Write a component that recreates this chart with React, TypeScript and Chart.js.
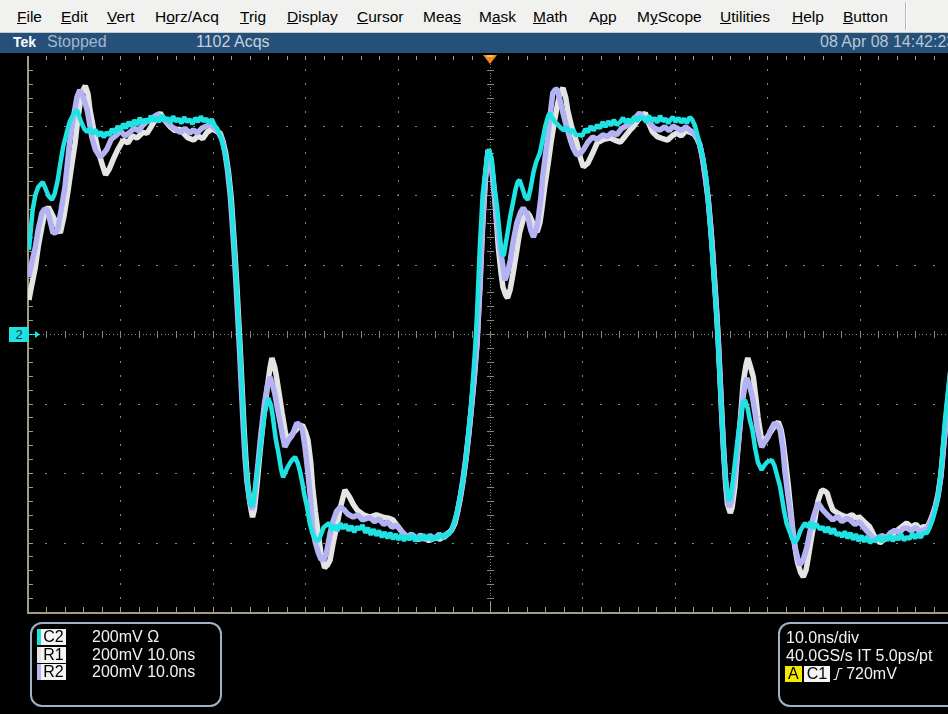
import React, { useEffect, useRef } from 'react';
import { Chart, registerables } from 'chart.js';

Chart.register(...registerables);

// ---- Scope settings ----
const timeRange = [-50, 50]; // ns (10.0 ns/div, 10 divisions)
const voltRange = [-800, 800]; // mV (200 mV/div, 8 divisions)
const timeDivs = [-40, -30, -20, -10, 10, 20, 30, 40];
const voltDivs = [-600, -400, -200, 200, 400, 600];

const menuItems: [string, number, number][] = [
  // label, left px, underlined char index
  ['File', 17, 0],
  ['Edit', 61, 0],
  ['Vert', 107, 0],
  ['Horz/Acq', 155, 1],
  ['Trig', 240, 0],
  ['Display', 287, 0],
  ['Cursor', 357, 0],
  ['Meas', 423, 3],
  ['Mask', 479, 1],
  ['Math', 533, 0],
  ['App', 589, 1],
  ['MyScope', 637, 1],
  ['Utilities', 720, 0],
  ['Help', 792, 0],
  ['Button', 843, 0],
];

const channelRows: [string, string, string][] = [
  ['C2', '200mV Ω', '#1fe3e3'],
  ['R1', '200mV 10.0ns', '#e6e6e6'],
  ['R2', '200mV 10.0ns', '#b4b4f2'],
];

// ---- Waveforms: [time ns, mV] ----
const c2Trace: [number, number][] = [
  [-49.9, 242], [-49.5, 357], [-49.2, 400], [-48.9, 423], [-48.4, 437], [-48.1, 418], [-47.8, 398], [-47.4, 386], [-47.1, 405],
  [-46.8, 440], [-46.5, 490], [-46.2, 538], [-45.8, 580], [-45.5, 610], [-45.1, 632], [-44.7, 645], [-44.5, 628], [-44.2, 607],
  [-43.9, 590], [-43.6, 581], [-43.3, 592], [-43.0, 575], [-42.7, 588], [-42.4, 570], [-42.1, 582], [-41.8, 566], [-41.5, 580],
  [-41.2, 572], [-40.9, 590], [-40.6, 578], [-40.3, 598], [-40.0, 585], [-39.7, 605], [-39.4, 592], [-39.1, 610], [-38.8, 598],
  [-38.5, 615], [-38.2, 602], [-37.9, 622], [-37.6, 606], [-37.3, 618], [-37.0, 608], [-36.7, 628], [-36.4, 612], [-36.1, 624],
  [-35.8, 610], [-35.5, 630], [-35.2, 614], [-34.9, 622], [-34.6, 608], [-34.3, 626], [-34.0, 612], [-33.7, 620], [-33.4, 606],
  [-33.1, 624], [-32.8, 610], [-32.5, 618], [-32.2, 604], [-31.9, 622], [-31.6, 610], [-31.3, 626], [-31.0, 612], [-30.7, 620],
  [-30.4, 606], [-30.1, 618], [-29.8, 600], [-29.5, 590], [-29.2, 570], [-28.9, 545], [-28.6, 510], [-28.3, 460], [-28.0, 380],
  [-27.8, 300], [-27.6, 220], [-27.4, 130], [-27.2, 30], [-27.0, -70], [-26.8, -180], [-26.6, -290], [-26.4, -380], [-26.2, -440],
  [-26.0, -480], [-25.8, -498], [-25.6, -485], [-25.4, -440], [-25.1, -380], [-24.7, -296], [-24.4, -230], [-24.0, -184],
  [-23.7, -205], [-23.5, -239], [-23.2, -300], [-22.9, -342], [-22.6, -390], [-22.4, -412], [-22.1, -395], [-21.9, -383],
  [-21.5, -365], [-21.1, -354], [-20.8, -372], [-20.6, -391], [-20.3, -430], [-20.1, -462], [-19.8, -498], [-19.5, -545],
  [-19.2, -575], [-18.9, -590], [-18.6, -596], [-18.3, -578], [-18.0, -556], [-17.7, -550], [-17.4, -544], [-17.1, -565],
  [-16.8, -550], [-16.5, -566], [-16.2, -545], [-15.9, -560], [-15.6, -548], [-15.3, -566], [-15.0, -552], [-14.7, -570],
  [-14.4, -555], [-14.1, -562], [-13.8, -550], [-13.5, -572], [-13.2, -558], [-12.9, -578], [-12.6, -562], [-12.3, -580],
  [-12.0, -566], [-11.7, -585], [-11.4, -570], [-11.1, -588], [-10.8, -572], [-10.5, -590], [-10.2, -576], [-9.9, -592],
  [-9.6, -578], [-9.3, -595], [-9.0, -580], [-8.7, -592], [-8.4, -576], [-8.1, -596], [-7.8, -582], [-7.5, -594], [-7.2, -578],
  [-6.9, -590], [-6.6, -580], [-6.3, -595], [-6.0, -582], [-5.7, -590], [-5.4, -576], [-5.1, -588], [-4.8, -574], [-4.5, -578],
  [-4.2, -565], [-3.9, -545], [-3.6, -515], [-3.3, -475], [-2.9, -420], [-2.6, -360], [-2.4, -296], [-2.1, -225], [-1.9, -153],
  [-1.6, -40], [-1.4, 60], [-1.1, 250], [-0.8, 400], [-0.5, 470], [-0.3, 515], [-0.1, 532], [0.2, 501], [0.5, 420], [0.8, 357],
  [1.0, 300], [1.3, 225], [1.5, 228], [1.9, 291], [2.2, 340], [2.5, 380], [2.8, 420], [3.0, 438], [3.2, 443], [3.5, 420],
  [3.8, 395], [4.1, 386], [4.4, 420], [4.7, 465], [5.0, 495], [5.4, 521], [5.7, 560], [6.0, 600], [6.3, 628], [6.5, 636],
  [6.8, 620], [7.1, 608], [7.4, 601], [7.7, 592], [8.0, 586], [8.3, 596], [8.7, 580], [9.0, 588], [9.3, 572], [9.7, 573],
  [10.0, 570], [10.3, 590], [10.6, 580], [10.9, 598], [11.2, 586], [11.6, 601], [11.9, 592], [12.2, 610], [12.5, 596],
  [12.8, 612], [13.1, 600], [13.4, 616], [13.7, 602], [14.1, 610], [14.4, 622], [14.7, 608], [15.0, 618], [15.3, 606],
  [15.6, 626], [15.9, 612], [16.2, 624], [16.6, 622], [16.9, 610], [17.2, 628], [17.5, 612], [17.8, 622], [18.1, 608],
  [18.4, 628], [18.7, 612], [19.0, 620], [19.3, 606], [19.5, 616], [19.8, 624], [20.1, 610], [20.4, 622], [20.7, 608],
  [21.0, 620], [21.3, 606], [21.6, 624], [21.9, 616], [22.2, 598], [22.5, 567], [22.8, 535], [23.1, 501], [23.4, 450],
  [23.6, 386], [23.8, 320], [24.0, 250], [24.2, 170], [24.4, 98], [24.6, 20], [24.8, -90], [25.1, -248], [25.3, -350],
  [25.5, -420], [25.8, -478], [26.0, -475], [26.3, -420], [26.6, -350], [26.9, -280], [27.2, -225], [27.4, -195],
  [27.6, -190], [27.9, -215], [28.1, -245], [28.4, -276], [28.7, -330], [29.0, -370], [29.4, -391], [29.7, -378],
  [30.0, -368], [30.5, -363], [30.8, -380], [31.1, -410], [31.4, -440], [31.8, -505], [32.1, -545], [32.5, -573],
  [32.7, -590], [33.0, -601], [33.3, -588], [33.6, -565], [34.1, -544], [34.4, -556], [34.7, -540], [35.0, -560],
  [35.3, -546], [35.7, -562], [36.0, -555], [36.3, -570], [36.6, -556], [36.9, -575], [37.2, -560], [37.5, -578],
  [37.9, -573], [38.1, -584], [38.4, -568], [38.7, -588], [39.0, -572], [39.3, -592], [39.6, -576], [39.9, -596],
  [40.2, -580], [40.5, -598], [40.8, -582], [41.1, -600], [41.5, -593], [41.8, -596], [42.1, -580], [42.4, -598],
  [42.7, -584], [43.0, -594], [43.3, -578], [43.6, -596], [43.9, -582], [44.2, -592], [44.5, -576], [44.8, -594],
  [45.1, -584], [45.4, -590], [45.7, -574], [46.0, -588], [46.3, -574], [46.6, -586], [46.9, -572], [47.3, -573],
  [47.6, -556], [47.9, -535], [48.2, -505], [48.5, -469], [48.7, -420], [48.9, -363], [49.2, -260], [49.5, -181],
  [49.8, -110], [50.2, 0],
];

const r2Trace: [number, number][] = [
  [-49.9, 164], [-49.6, 205], [-49.2, 250], [-48.9, 300], [-48.5, 348], [-48.2, 360], [-47.9, 357], [-47.6, 325], [-47.3, 291],
  [-47.0, 292], [-46.8, 299], [-46.4, 360], [-46.0, 423], [-45.7, 500], [-45.5, 550], [-45.1, 620], [-44.7, 682], [-44.4, 702],
  [-44.0, 680], [-43.6, 645], [-43.3, 600], [-43.1, 567], [-42.7, 530], [-42.2, 509], [-41.8, 520], [-41.5, 530], [-41.0, 560],
  [-40.4, 573], [-40.0, 585], [-39.5, 570], [-39.0, 580], [-38.5, 592], [-38.0, 585], [-37.6, 600], [-37.1, 612], [-36.6, 620],
  [-36.0, 632], [-35.5, 622], [-35.0, 612], [-34.5, 598], [-34.0, 588], [-33.5, 580], [-33.0, 592], [-32.5, 578], [-32.1, 588],
  [-31.7, 578], [-31.2, 592], [-30.7, 598], [-30.3, 603], [-29.8, 592], [-29.4, 580], [-29.0, 560], [-28.7, 525], [-28.4, 470],
  [-28.1, 395], [-27.9, 320], [-27.7, 240], [-27.5, 150], [-27.3, 50], [-27.1, -50], [-26.9, -160], [-26.7, -270], [-26.5, -360],
  [-26.3, -425], [-26.0, -480], [-25.8, -505], [-25.6, -495], [-25.4, -450], [-25.1, -371], [-24.8, -290], [-24.4, -199],
  [-24.1, -150], [-23.8, -124], [-23.6, -140], [-23.3, -170], [-23.0, -215], [-22.7, -256], [-22.4, -300], [-22.2, -325],
  [-21.8, -305], [-21.4, -291], [-21.1, -270], [-20.9, -256], [-20.6, -262], [-20.3, -275], [-20.0, -330], [-19.7, -400],
  [-19.4, -480], [-19.2, -560], [-18.9, -600], [-18.6, -628], [-18.3, -648], [-18.0, -650], [-17.7, -630], [-17.3, -573],
  [-17.0, -540], [-16.6, -510], [-16.2, -498], [-15.8, -505], [-15.4, -518], [-14.8, -527], [-14.3, -520], [-13.8, -535],
  [-13.0, -528], [-12.5, -540], [-12.0, -532], [-11.5, -548], [-11.1, -540], [-10.6, -556], [-10.1, -550], [-9.6, -568],
  [-9.0, -584], [-8.5, -576], [-8.0, -590], [-7.5, -578], [-7.0, -592], [-6.5, -580], [-6.0, -590], [-5.5, -576], [-5.0, -586],
  [-4.5, -574], [-4.1, -562], [-3.8, -540], [-3.5, -508], [-3.2, -465], [-2.9, -415], [-2.6, -355], [-2.3, -285], [-2.0, -205],
  [-1.7, -120], [-1.4, -20], [-1.1, 140], [-0.8, 320], [-0.5, 450], [-0.2, 530], [0.1, 505], [0.4, 420], [0.8, 308], [1.1, 240],
  [1.3, 213], [1.6, 155], [1.9, 175], [2.2, 213], [2.5, 265], [2.9, 319], [3.3, 350], [3.6, 363], [3.9, 350], [4.1, 337],
  [4.4, 300], [4.7, 279], [5.0, 300], [5.2, 328], [5.5, 390], [5.7, 452], [6.0, 515], [6.3, 578], [6.6, 650], [6.8, 694],
  [7.1, 705], [7.3, 702], [7.6, 670], [7.9, 636], [8.3, 595], [8.7, 558], [9.0, 535], [9.4, 515], [9.8, 520], [10.1, 530],
  [10.6, 552], [11.1, 567], [11.6, 560], [12.2, 573], [12.7, 568], [13.2, 580], [13.7, 573], [14.2, 590], [14.7, 598],
  [15.2, 607], [15.7, 622], [16.2, 636], [16.7, 620], [17.3, 607], [17.8, 592], [18.4, 587], [18.9, 596], [19.4, 585],
  [19.8, 598], [20.2, 593], [20.7, 585], [21.2, 596], [21.6, 587], [22.0, 580], [22.4, 565], [22.7, 545], [23.0, 505],
  [23.3, 450], [23.6, 390], [23.9, 300], [24.1, 230], [24.3, 150], [24.5, 70], [24.7, -20], [24.9, -130], [25.1, -240],
  [25.3, -340], [25.5, -420], [25.7, -475], [25.9, -498], [26.1, -485], [26.4, -430], [26.7, -363], [27.0, -280], [27.3, -199],
  [27.6, -145], [27.8, -127], [28.1, -150], [28.4, -181], [28.7, -230], [28.9, -268], [29.2, -305], [29.4, -325], [29.7, -312],
  [30.1, -296], [30.5, -270], [30.8, -256], [31.1, -262], [31.4, -276], [31.7, -330], [31.9, -391], [32.2, -455], [32.5, -515],
  [32.8, -575], [33.0, -613], [33.3, -645], [33.5, -665], [33.9, -650], [34.3, -613], [34.7, -560], [35.0, -527], [35.5, -486],
  [36.0, -506], [36.5, -520], [37.1, -535], [37.6, -525], [38.1, -540], [38.6, -530], [39.0, -535], [39.5, -548], [40.0, -540],
  [40.4, -555], [40.9, -570], [41.4, -585], [41.9, -593], [42.4, -580], [42.9, -586], [43.3, -573], [43.8, -565], [44.3, -572],
  [44.7, -560], [45.1, -558], [45.6, -566], [46.1, -556], [46.5, -568], [46.9, -564], [47.3, -560], [47.6, -545], [47.9, -525],
  [48.2, -500], [48.5, -465], [48.8, -410], [49.1, -320], [49.4, -230], [49.7, -150], [50.2, -20],
];

const r1Trace: [number, number][] = [
  [-49.9, 98], [-49.6, 140], [-49.2, 193], [-48.9, 250], [-48.5, 308], [-48.2, 345], [-47.8, 365], [-47.5, 350], [-47.1, 328],
  [-46.8, 305], [-46.5, 291], [-46.1, 340], [-45.7, 406], [-45.3, 480], [-44.9, 550], [-44.6, 620], [-44.2, 694], [-43.8, 714],
  [-43.5, 690], [-43.3, 645], [-42.9, 590], [-42.5, 538], [-42.0, 490], [-41.6, 458], [-41.2, 475], [-40.8, 501], [-40.3, 530],
  [-39.7, 558], [-39.2, 550], [-38.7, 570], [-38.2, 564], [-37.6, 580], [-37.1, 578], [-36.6, 600], [-36.1, 622], [-35.7, 636],
  [-35.2, 615], [-34.6, 596], [-34.1, 585], [-33.6, 590], [-33.2, 578], [-32.7, 565], [-32.1, 558], [-31.6, 570], [-31.1, 562],
  [-30.6, 581], [-30.1, 590], [-29.7, 585], [-29.2, 578], [-28.9, 555], [-28.6, 520], [-28.3, 465], [-28.0, 390], [-27.8, 310],
  [-27.6, 230], [-27.4, 140], [-27.2, 40], [-27.0, -60], [-26.8, -170], [-26.6, -280], [-26.4, -370], [-26.2, -440],
  [-25.9, -500], [-25.7, -527], [-25.5, -505], [-25.2, -430], [-24.9, -342], [-24.5, -240], [-24.1, -153], [-23.8, -95],
  [-23.6, -69], [-23.3, -95], [-23.1, -124], [-22.8, -175], [-22.5, -227], [-22.2, -275], [-22.0, -305], [-21.6, -295],
  [-21.3, -285], [-20.8, -270], [-20.3, -262], [-20.0, -280], [-19.7, -305], [-19.4, -370], [-19.2, -440], [-18.9, -510],
  [-18.6, -573], [-18.3, -630], [-17.9, -673], [-17.6, -665], [-17.3, -650], [-17.0, -605], [-16.6, -555], [-16.2, -500],
  [-15.7, -449], [-15.2, -469], [-14.8, -490], [-14.4, -506], [-13.7, -520], [-13.0, -527], [-12.3, -520], [-11.6, -527],
  [-11.0, -530], [-10.5, -535], [-10.0, -552], [-9.4, -573], [-8.9, -585], [-8.4, -578], [-7.8, -592], [-7.2, -582],
  [-6.6, -595], [-6.0, -585], [-5.4, -590], [-4.8, -578], [-4.2, -566], [-3.8, -545], [-3.5, -512], [-3.2, -470], [-2.9, -420],
  [-2.6, -360], [-2.3, -290], [-2.0, -210], [-1.7, -125], [-1.4, -25], [-1.1, 130], [-0.8, 310], [-0.5, 445], [-0.2, 528],
  [0.1, 500], [0.5, 400], [0.9, 250], [1.2, 175], [1.4, 135], [1.7, 112], [1.9, 104], [2.2, 130], [2.5, 175], [2.9, 240],
  [3.2, 291], [3.6, 330], [4.0, 351], [4.3, 340], [4.5, 328], [4.8, 305], [5.1, 294], [5.4, 320], [5.6, 357], [5.9, 420],
  [6.3, 492], [6.6, 550], [7.0, 616], [7.3, 660], [7.6, 694], [7.9, 708], [8.2, 680], [8.4, 645], [8.8, 600], [9.4, 550],
  [9.8, 505], [10.1, 481], [10.6, 492], [11.1, 520], [11.6, 550], [12.3, 560], [13.0, 564], [13.5, 558], [14.1, 552],
  [14.6, 568], [15.1, 585], [15.5, 596], [16.1, 618], [16.8, 636], [17.2, 605], [17.6, 581], [18.1, 568], [18.7, 562],
  [19.2, 558], [19.7, 570], [20.2, 578], [20.7, 570], [21.2, 585], [21.6, 581], [22.1, 575], [22.4, 562], [22.7, 545],
  [23.0, 508], [23.3, 455], [23.6, 392], [23.9, 305], [24.1, 235], [24.3, 155], [24.5, 75], [24.7, -15], [24.9, -125],
  [25.1, -240], [25.3, -345], [25.5, -430], [25.7, -490], [26.0, -515], [26.2, -500], [26.5, -440], [26.7, -370], [27.0, -280],
  [27.4, -141], [27.7, -90], [27.9, -69], [28.2, -95], [28.5, -124], [28.8, -190], [29.0, -239], [29.3, -290], [29.5, -314],
  [29.9, -300], [30.3, -285], [30.8, -265], [31.2, -253], [31.5, -275], [31.7, -305], [32.0, -370], [32.3, -440], [32.6, -520],
  [32.8, -573], [33.1, -630], [33.3, -659], [33.6, -685], [33.9, -699], [34.2, -680], [34.4, -650], [34.8, -585], [35.2, -527],
  [35.5, -480], [35.9, -449], [36.2, -452], [36.5, -458], [36.8, -485], [37.1, -506], [37.6, -515], [38.1, -522], [38.6, -527],
  [39.2, -520], [39.6, -530], [40.0, -527], [40.5, -540], [41.1, -555], [41.6, -582], [42.2, -601], [42.7, -590], [43.3, -584],
  [43.8, -570], [44.3, -560], [44.7, -552], [45.1, -544], [45.6, -556], [46.1, -548], [46.5, -560], [46.9, -555], [47.3, -556],
  [47.6, -540], [47.9, -520], [48.2, -495], [48.5, -460], [48.8, -405], [49.1, -320], [49.4, -240], [49.7, -170], [50.2, -40],
];

const FONT = '"Liberation Sans", Arial, sans-serif';
const BORDER = '#a39a82';
const DOT = '#858585';

const graticule = {
  id: 'graticule',
  beforeDatasetsDraw(chart: any) {
    const { ctx, chartArea: a, scales } = chart;
    const x = scales.x;
    const y = scales.y;
    const px = (t: number) => Math.round(x.getPixelForValue(t));
    const py = (v: number) => Math.round(y.getPixelForValue(v));
    ctx.save();
    ctx.fillStyle = DOT;
    // dotted major grid lines (dots at every minor subdivision)
    for (const t of timeDivs) {
      for (let v = voltRange[0] + 40; v < voltRange[1]; v += 40) ctx.fillRect(px(t), py(v) - 1, 1, 2);
    }
    for (const v of voltDivs) {
      for (let t = timeRange[0] + 2; t < timeRange[1]; t += 2) ctx.fillRect(px(t) - 1, py(v), 2, 1);
    }
    // center cross: fine dots + minor ticks
    const cx = px(0);
    const cy = py(0);
    for (let v = voltRange[0]; v <= voltRange[1]; v += 8) ctx.fillRect(cx, py(v), 1, 1);
    for (let t = timeRange[0]; t <= timeRange[1]; t += 0.4) ctx.fillRect(px(t), cy, 1, 1);
    for (let v = voltRange[0] + 40; v < voltRange[1]; v += 40) ctx.fillRect(cx - 3, py(v), 7, 1);
    for (let t = timeRange[0] + 2; t < timeRange[1]; t += 2) ctx.fillRect(px(t), cy - 3, 1, 7);
    // frame ticks
    ctx.fillStyle = BORDER;
    for (let t = timeRange[0] + 2; t < timeRange[1]; t += 2) {
      const len = Math.abs(t) < 0.01 ? 10 : 5;
      ctx.fillRect(px(t), a.bottom - len, 1, len);
      ctx.fillRect(px(t), a.top, 1, 4);
    }
    for (let v = voltRange[0] + 40; v < voltRange[1]; v += 40) {
      ctx.fillRect(a.left, py(v), 5, 1);
    }
    // frame lines (left and bottom)
    ctx.fillRect(a.left - 1, a.top, 2, a.bottom - a.top + 1);
    ctx.fillRect(a.left - 1, a.bottom, a.right - a.left + 2, 2);
    ctx.restore();
  },
  afterDraw(chart: any) {
    const { ctx, scales } = chart;
    const cx = scales.x.getPixelForValue(0);
    const top = chart.chartArea.top;
    const cy = scales.y.getPixelForValue(0);
    ctx.save();
    // trigger position marker
    ctx.fillStyle = '#f28a1c';
    ctx.beginPath();
    ctx.moveTo(cx - 7, top - 1);
    ctx.lineTo(cx + 7, top - 1);
    ctx.lineTo(cx, top + 8);
    ctx.closePath();
    ctx.fill();
    ctx.fillStyle = '#ffc060';
    ctx.fillRect(cx - 3, top - 1, 6, 2);
    // channel 2 ground arrow
    ctx.strokeStyle = '#1fe3e3';
    ctx.fillStyle = '#1fe3e3';
    ctx.lineWidth = 1;
    ctx.beginPath();
    ctx.moveTo(29, cy + 0.5);
    ctx.lineTo(36, cy + 0.5);
    ctx.stroke();
    ctx.beginPath();
    ctx.moveTo(35, cy - 3);
    ctx.lineTo(40, cy + 0.5);
    ctx.lineTo(35, cy + 4);
    ctx.closePath();
    ctx.fill();
    ctx.restore();
  },
};

const toPoints = (arr: [number, number][]) => arr.map(([t, v]) => ({ x: t, y: v }));

function Label({ text, bg }: { text: string; bg: string }) {
  return (
    <span
      style={{
        display: 'inline-block',
        background: bg,
        color: '#000',
        padding: '0 3px',
        height: 16,
        lineHeight: '16px',
        marginRight: 2,
      }}
    >
      {text}
    </span>
  );
}

export default function App() {
  const ref = useRef<HTMLCanvasElement>(null);

  useEffect(() => {
    const chart = new Chart(ref.current as HTMLCanvasElement, {
      type: 'line',
      data: {
        datasets: [
          { label: 'C2', data: toPoints(c2Trace), borderColor: '#1fe3e3', borderWidth: 4.5, borderJoinStyle: 'bevel' },
          { label: 'R2', data: toPoints(r2Trace), borderColor: '#b3b3f3', borderWidth: 5.5, borderJoinStyle: 'bevel' },
          { label: 'R1', data: toPoints(r1Trace), borderColor: '#e4e4e4', borderWidth: 5.5, borderJoinStyle: 'bevel' },
        ] as any,
      },
      options: {
        animation: false,
        responsive: false,
        devicePixelRatio: 1,
        layout: { padding: { left: 28, top: 56, right: 8, bottom: 102 } },
        elements: { point: { radius: 0 }, line: { tension: 0 } },
        plugins: { legend: { display: false }, tooltip: { enabled: false } },
        scales: {
          x: { type: 'linear', min: timeRange[0], max: timeRange[1], display: false },
          y: { type: 'linear', min: voltRange[0], max: voltRange[1], display: false },
        },
      } as any,
      plugins: [graticule],
    });
    return () => chart.destroy();
  }, []);

  return (
    <div
      style={{
        position: 'fixed',
        left: 0,
        top: 0,
        width: 948,
        height: 714,
        overflow: 'hidden',
        background: '#000',
        fontFamily: FONT,
      }}
    >
      <canvas ref={ref} width={960} height={714} style={{ position: 'absolute', left: 0, top: 0 }} />

      {/* menu bar */}
      <div
        style={{
          position: 'absolute',
          left: 0,
          top: 0,
          width: 948,
          height: 32,
          background: '#f1f1ef',
          borderBottom: '1px solid #c9c9c9',
          fontSize: 15.5,
          color: '#000',
        }}
      >
        {menuItems.map(([label, left, u]) => (
          <span key={label} style={{ position: 'absolute', left, top: 8, lineHeight: '17px', whiteSpace: 'nowrap' }}>
            {label.slice(0, u)}
            <u>{label[u]}</u>
            {label.slice(u + 1)}
          </span>
        ))}
        <div style={{ position: 'absolute', left: 905, top: 2, width: 1, height: 28, background: '#b8b8b8' }} />
        <div style={{ position: 'absolute', left: 906, top: 2, width: 1, height: 28, background: '#ffffff' }} />
      </div>

      {/* status bar */}
      <div
        style={{
          position: 'absolute',
          left: 0,
          top: 33,
          width: 948,
          height: 20,
          background: '#24507a',
          fontSize: 16,
          whiteSpace: 'nowrap',
        }}
      >
        <span style={{ position: 'absolute', left: 13, top: 1, color: '#fff', fontWeight: 'bold', fontSize: 14 }}>Tek</span>
        <span style={{ position: 'absolute', left: 47, top: 0, color: '#a3b7cb' }}>Stopped</span>
        <span style={{ position: 'absolute', left: 196, top: 0, color: '#c9d2dc' }}>1102 Acqs</span>
        <span style={{ position: 'absolute', left: 820, top: 0, color: '#b9c6d3' }}>08 Apr 08 14:42:23</span>
      </div>

      {/* channel 2 reference marker */}
      <div
        style={{
          position: 'absolute',
          left: 9,
          top: 327,
          width: 20,
          height: 15,
          background: '#1fe3e3',
          color: '#0d3550',
          fontSize: 13,
          lineHeight: '15px',
          textAlign: 'center',
        }}
      >
        2
      </div>

      {/* channel readout box */}
      <div
        style={{
          position: 'absolute',
          left: 30,
          top: 622,
          width: 188,
          height: 81,
          border: '2px solid #9fb3c6',
          borderRadius: 12,
          color: '#f2f2f2',
          fontSize: 16,
        }}
      >
        {channelRows.map(([name, text, color], i) => (
          <div key={name} style={{ position: 'absolute', left: 5, top: 5 + i * 17.5, height: 16, whiteSpace: 'nowrap' }}>
            <span style={{ display: 'inline-block', width: 4, height: 16, background: color, verticalAlign: 'top' }} />
            <span style={{ display: 'inline-block', width: 25, height: 16, background: '#f4f4f4', color: '#000', textAlign: 'center', lineHeight: '16px', verticalAlign: 'top' }}>
              {name}
            </span>
            <span style={{ position: 'absolute', left: 55, top: 0, lineHeight: '16px' }}>{text}</span>
          </div>
        ))}
      </div>

      {/* timebase / trigger readout box */}
      <div
        style={{
          position: 'absolute',
          left: 778,
          top: 622,
          width: 200,
          height: 81,
          border: '2px solid #9fb3c6',
          borderRadius: 12,
          color: '#f2f2f2',
          fontSize: 16,
          whiteSpace: 'nowrap',
        }}
      >
        <div style={{ position: 'absolute', left: 6, top: 5, lineHeight: '17px' }}>10.0ns/div</div>
        <div style={{ position: 'absolute', left: 6, top: 23, lineHeight: '17px' }}>40.0GS/s IT 5.0ps/pt</div>
        <div style={{ position: 'absolute', left: 5, top: 42, lineHeight: '16px', height: 16 }}>
          <Label text="A" bg="#f5e800" />
          <Label text="C1" bg="#f4f4f4" />
          <svg width="10" height="14" style={{ verticalAlign: 'top', margin: '1px 3px 0 1px' }}>
            <polyline points="0.5,12.5 3,12.5 6,1.5 9.5,1.5" fill="none" stroke="#f2f2f2" strokeWidth="1.2" />
          </svg>
          <span>720mV</span>
        </div>
      </div>
    </div>
  );
}
